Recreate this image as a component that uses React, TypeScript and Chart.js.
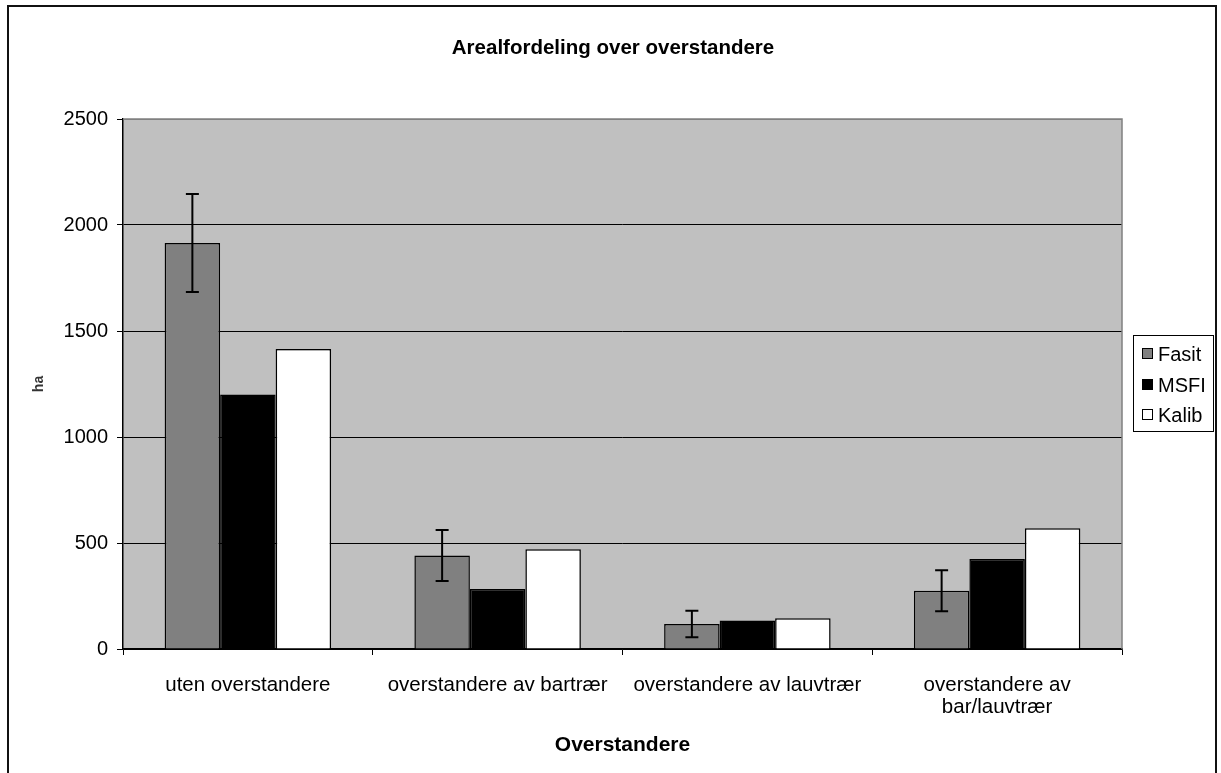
import React, { useEffect, useRef } from "react";
import { Chart, registerables } from "chart.js";

Chart.register(...registerables);

const categories: (string | string[])[] = [
  "uten overstandere",
  "overstandere av bartrær",
  "overstandere av lauvtrær",
  ["overstandere av", "bar/lauvtrær"],
];
const seriesNames = ["Fasit", "MSFI", "Kalib"];
const fasit = [1915, 441, 118, 275];
const fasitErr = [231, 120, 62, 97];
const msfi = [1200, 283, 135, 425];
const kalib = [1415, 470, 145, 570];
const seriesColors = ["#808080", "#000000", "#FFFFFF"];
const yTicks = [0, 500, 1000, 1500, 2000, 2500];
const chartTitle = "Arealfordeling over overstandere";
const xTitle = "Overstandere";
const yTitle = "ha";

const FONT = "'Liberation Sans', Arial, sans-serif";

const backgroundPlugin = {
  id: "bgPlot",
  beforeDraw(chart: any) {
    const { ctx, chartArea: a, width, height } = chart;
    ctx.save();
    ctx.fillStyle = "#FFFFFF";
    ctx.fillRect(0, 0, width, height);
    ctx.fillStyle = "#C0C0C0";
    ctx.fillRect(a.left, a.top, a.right - a.left, a.bottom - a.top);
    ctx.restore();
  },
  afterDraw(chart: any) {
    const { ctx, chartArea: a } = chart;
    ctx.save();
    ctx.strokeStyle = "#808080";
    ctx.lineWidth = 1.5;
    ctx.beginPath();
    ctx.moveTo(a.left, a.top);
    ctx.lineTo(a.right, a.top);
    ctx.lineTo(a.right, a.bottom);
    ctx.stroke();
    // outer frame
    ctx.strokeStyle = "#111111";
    ctx.lineWidth = 2;
    ctx.beginPath();
    ctx.moveTo(8, chart.height + 5);
    ctx.lineTo(8, 6);
    ctx.lineTo(1216, 6);
    ctx.lineTo(1216, chart.height + 5);
    ctx.stroke();
    // chart title
    ctx.fillStyle = "#000";
    ctx.font = `bold 20.5px ${FONT}`;
    ctx.textAlign = "center";
    ctx.textBaseline = "middle";
    ctx.fillText(chartTitle, 613, 48);
    ctx.restore();
  },
};

const errorBarPlugin = {
  id: "errBars",
  afterDatasetsDraw(chart: any) {
    const { ctx } = chart;
    const meta = chart.getDatasetMeta(0);
    const y = chart.scales.y;
    ctx.save();
    ctx.strokeStyle = "#000";
    ctx.lineWidth = 2;
    meta.data.forEach((bar: any, i: number) => {
      const v = fasit[i];
      const e = fasitErr[i];
      const yTop = y.getPixelForValue(v + e);
      const yBot = y.getPixelForValue(v - e);
      const x = bar.x;
      ctx.beginPath();
      ctx.moveTo(x, yTop);
      ctx.lineTo(x, yBot);
      ctx.moveTo(x - 6.5, yTop);
      ctx.lineTo(x + 6.5, yTop);
      ctx.moveTo(x - 6.5, yBot);
      ctx.lineTo(x + 6.5, yBot);
      ctx.stroke();
    });
    ctx.restore();
  },
};

const legendPlugin = {
  id: "customLegend",
  afterDraw(chart: any) {
    const { ctx } = chart;
    const bx = 1133.5, by = 335.5, bw = 80, bh = 96;
    ctx.save();
    ctx.fillStyle = "#FFFFFF";
    ctx.fillRect(bx, by, bw, bh);
    ctx.strokeStyle = "#000";
    ctx.lineWidth = 1;
    ctx.strokeRect(bx, by, bw, bh);
    const rows = [354, 385, 415];
    chart.data.datasets.forEach((ds: any, i: number) => {
      const cy = rows[i];
      ctx.fillStyle = ds.backgroundColor;
      ctx.fillRect(1142, cy - 6, 10, 10);
      ctx.strokeStyle = "#000";
      ctx.lineWidth = 1;
      ctx.strokeRect(1142.5, cy - 5.5, 10, 10);
      ctx.fillStyle = "#000";
      ctx.font = `20px ${FONT}`;
      ctx.textAlign = "left";
      ctx.textBaseline = "middle";
      ctx.fillText(ds.label, 1158, cy + 1);
    });
    ctx.restore();
  },
};

export default function App() {
  const ref = useRef<HTMLCanvasElement | null>(null);
  useEffect(() => {
    if (!ref.current) return;
    const datasets = [fasit, msfi, kalib].map((d, i) => ({
      label: seriesNames[i],
      data: d,
      backgroundColor: seriesColors[i],
      borderColor: "#000000",
      borderWidth: 1.5,
      categoryPercentage: 3 / 4.5,
      barPercentage: 1,
    }));
    const chart = new Chart(ref.current, {
      type: "bar",
      data: { labels: categories as any, datasets },
      options: {
        animation: false,
        responsive: false,
        maintainAspectRatio: false,
        layout: { padding: { left: 0, right: 99, top: 119, bottom: 0 } },
        plugins: {
          legend: { display: false },
          tooltip: { enabled: false },
          title: { display: false },
        },
        scales: {
          x: {
            grid: {
              offset: true,
              drawOnChartArea: false,
              drawTicks: true,
              tickLength: 6,
              color: "#000",
            },
            border: { display: true, color: "#000", width: 1.5 },
            ticks: {
              color: "#000",
              font: { family: FONT, size: 20.5, lineHeight: "22px" as any },
              padding: 19,
              maxRotation: 0,
              autoSkip: false,
            },
            title: {
              display: true,
              text: xTitle,
              color: "#000",
              font: { family: FONT, size: 21, weight: "bold", lineHeight: 1.2 },
              padding: { top: 0, bottom: 15 },
            },
            afterFit(scale: any) {
              scale.height = 124;
            },
          },
          y: {
            min: 0,
            max: 2500,
            afterBuildTicks(scale: any) {
              scale.ticks = yTicks.map((v) => ({ value: v }));
            },
            grid: {
              drawTicks: true,
              tickLength: 6,
              tickColor: "#000",
              lineWidth: 1,
              color: (c: any) => (c.tick && c.tick.value === 2500 ? "#808080" : "#000"),
            },
            border: { display: true, color: "#000", width: 1.5 },
            ticks: {
              color: "#000",
              font: { family: FONT, size: 20 },
              padding: 9,
              callback: (v: any) => String(v),
            },
            title: {
              display: true,
              text: yTitle,
              color: "#333",
              font: { family: FONT, size: 14, weight: "bold", lineHeight: 1.2 },
              padding: { top: 31, bottom: 0 },
            },
            afterFit(scale: any) {
              scale.width = 123;
            },
          },
        },
      },
      plugins: [backgroundPlugin, errorBarPlugin, legendPlugin],
    });
    return () => chart.destroy();
  }, []);
  return (
    <div style={{ position: "absolute", left: 0, top: 0, width: 1221, height: 773, background: "#fff" }}>
      <canvas ref={ref} width={1221} height={773} style={{ display: "block", width: 1221, height: 773 }} />
    </div>
  );
}
